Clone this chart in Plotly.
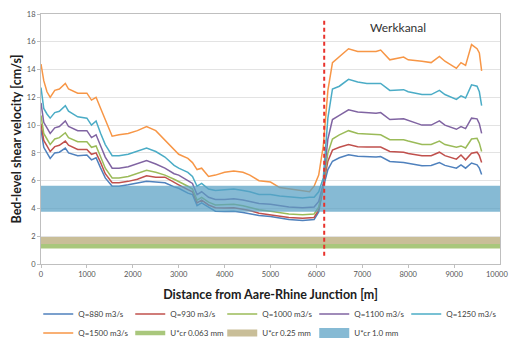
import plotly.graph_objects as go

# Distance from the Aare-Rhine junction [m]
distance = [0, 60, 130, 200, 300, 400, 530, 600, 800, 1000, 1100, 1200, 1300, 1400,
            1550, 1700, 1900, 2100, 2300, 2500, 2700, 2900, 3000, 3200, 3300, 3400,
            3500, 3650, 3800, 4000, 4200, 4400, 4550, 4750, 5000, 5200, 5400, 5700,
            5850, 5950, 6050, 6150, 6250, 6350, 6500, 6700, 6900, 7100, 7300, 7400,
            7600, 7900, 8000, 8300, 8500, 8680, 8800, 9000, 9050, 9150, 9250, 9380,
            9500, 9550, 9600]

# Bed-level shear velocity [cm/s] per discharge
u_880 = [9.7, 8.4, 8.0, 7.6, 8.0, 8.05, 8.35, 8.0, 7.8, 7.85, 7.5, 7.65, 6.9, 6.2,
         5.6, 5.6, 5.7, 5.8, 5.95, 5.9, 5.85, 5.55, 5.45, 5.1, 5.0, 4.2,
         4.4, 4.1, 3.8, 3.78, 3.8, 3.7, 3.6, 3.5, 3.42, 3.3, 3.2, 3.14,
         3.2, 3.2, 3.75, 5.5, 6.8, 7.4, 7.65, 7.86, 7.75, 7.72, 7.7, 7.74,
         7.38, 7.31, 7.25, 7.07, 7.1, 7.31, 7.1, 6.98, 6.9, 7.14, 6.9, 7.27,
         7.14, 6.9, 6.45]
u_930 = [10.1, 8.9, 8.5, 8.1, 8.45, 8.55, 8.85, 8.55, 8.25, 8.25, 7.9, 8.0, 7.3, 6.5,
         5.85, 5.85, 5.95, 6.1, 6.35, 6.25, 6.25, 5.85, 5.7, 5.35, 5.2, 4.4,
         4.6, 4.25, 4.05, 4.03, 4.05, 3.95, 3.85, 3.65, 3.55, 3.45, 3.35, 3.3,
         3.35, 3.35, 3.9, 5.6, 7.4, 8.2, 8.4, 8.6, 8.45, 8.42, 8.4, 8.42,
         8.1, 8.05, 7.95, 7.8, 7.8, 8.05, 7.8, 7.62, 7.55, 7.85, 7.5, 7.98,
         8.05, 7.8, 7.3]
u_1000 = [10.7, 9.4, 9.0, 8.6, 9.0, 9.1, 9.45, 9.1, 8.8, 8.8, 8.4, 8.5, 7.7, 6.9,
          6.2, 6.2, 6.3, 6.5, 6.75, 6.6, 6.4, 6.1, 5.95, 5.6, 5.4, 4.6,
          4.8, 4.45, 4.25, 4.25, 4.3, 4.2, 4.05, 3.9, 3.8, 3.7, 3.6, 3.55,
          3.6, 3.6, 4.1, 5.7, 8.0, 9.0, 9.3, 9.6, 9.4, 9.35, 9.3, 9.3,
          8.95, 8.95, 8.85, 8.6, 8.6, 8.85, 8.6, 8.45, 8.4, 8.5, 8.35, 9.0,
          9.05, 8.7, 8.1]
u_1100 = [11.6, 10.2, 9.8, 9.4, 9.8, 9.9, 10.3, 9.9, 9.6, 9.6, 9.1, 9.3, 8.5, 7.7,
          6.9, 6.9, 7.0, 7.2, 7.45, 7.2, 6.9, 6.5, 6.4, 6.0, 5.8, 5.0,
          5.2, 4.8, 4.65, 4.65, 4.7, 4.6, 4.5, 4.35, 4.3, 4.2, 4.1, 4.05,
          4.1, 4.1, 4.5, 5.8, 9.0, 10.4, 10.7, 11.1, 10.95, 10.9, 10.85, 10.9,
          10.4, 10.45, 10.35, 10.0, 10.0, 10.3, 10.0, 9.8, 9.7, 9.9, 9.75, 10.5,
          10.45, 10.1, 9.4]
u_1250 = [12.7, 11.2, 10.8, 10.5, 10.9, 11.0, 11.4, 11.0, 10.6, 10.5, 10.0, 10.3, 9.4, 8.6,
          7.8, 7.8, 7.9, 8.1, 8.35, 8.1, 7.7, 7.1, 6.9, 6.6, 6.3, 5.6,
          5.8, 5.4, 5.3, 5.35, 5.4, 5.3, 5.2, 5.0, 5.0, 4.9, 4.85, 4.75,
          4.8, 4.8, 5.2, 6.2, 10.5, 12.6, 12.8, 13.3, 13.1, 13.0, 13.0, 13.0,
          12.5, 12.55, 12.4, 12.2, 12.2, 12.5, 12.2, 11.95, 11.85, 12.1, 11.95, 12.9,
          12.8, 12.4, 11.4]
u_1500 = [14.4, 13.2, 12.4, 12.0, 12.5, 12.6, 13.0, 12.6, 12.3, 12.3, 11.8, 12.0, 11.2, 10.4,
          9.2, 9.3, 9.4, 9.6, 9.9, 9.6, 8.9, 8.2, 7.9, 7.6, 7.3, 6.8,
          6.9, 6.3, 6.4, 6.6, 6.7, 6.6, 6.4, 6.0, 5.9, 5.5, 5.4, 5.3,
          5.2, 5.6, 6.4, 8.5, 12.5, 14.5, 14.9, 15.5, 15.3, 15.3, 15.3, 15.4,
          14.7, 14.9, 14.7, 14.6, 14.5, 14.95, 14.6, 14.2, 14.1, 14.5, 14.3, 15.8,
          15.5, 15.2, 13.9]

discharge_labels = ["Q=880 m3/s", "Q=930 m3/s", "Q=1000 m3/s",
                    "Q=1100 m3/s", "Q=1250 m3/s", "Q=1500 m3/s"]
discharge_colors = ["#4F81BD", "#C0504D", "#9BBB59", "#8064A2", "#4BACC6", "#F79646"]

# Critical shear velocities for incipient motion [cm/s]
crit_labels = ["U*cr 0.063 mm", "U*cr 0.25 mm", "U*cr 1.0 mm"]
crit_values = [1.28, 1.70, 4.70]
crit_colors = ["#A9C77C", "#C9BE98", "rgba(88,160,196,0.72)"]
crit_widths = [4.5, 7, 26]
crit_x = [0, 10000]

x_max = 10000
x_ticks = list(range(0, x_max, 1000))   # last label (x_max) placed separately

junction_x = 6170
werkkanal_pos = (7770, 17.0)

fig = go.Figure()

for series, name, color in zip([u_880, u_930, u_1000, u_1100, u_1250, u_1500],
                               discharge_labels, discharge_colors):
    fig.add_trace(go.Scatter(x=distance, y=series, mode="lines", name=name,
                             line=dict(color=color, width=1.5)))

for val, name, color, w in zip(crit_values, crit_labels, crit_colors, crit_widths):
    fig.add_trace(go.Scatter(x=crit_x, y=[val, val], mode="lines", name=name,
                             line=dict(color=color, width=w)))

fig.add_shape(type="line", x0=junction_x, x1=junction_x, y0=0.6, y1=17.7,
              xref="x", yref="y", layer="above",
              line=dict(color="#E8322C", width=2, dash="4px,3px"))

fig.add_annotation(x=werkkanal_pos[0], y=werkkanal_pos[1], text="Werkkanal",
                   showarrow=False, font=dict(size=12, color="#333333", family="Lato"))

# end-of-axis tick label, nudged left so it stays on the page
fig.add_annotation(x=x_max, y=0, xref="x", yref="paper", text=str(x_max),
                   showarrow=False, xanchor="center", yanchor="top",
                   xshift=-3, yshift=-4,
                   font=dict(size=7.5, color="#555555", family="Lato"))

fig.update_layout(
    width=509, height=342,
    margin=dict(l=41, r=9, t=14, b=78, autoexpand=False),
    paper_bgcolor="white", plot_bgcolor="white",
    font=dict(family="Lato", color="#404040"),
    showlegend=True,
    legend=dict(orientation="h", x=-0.006, y=-0.142, xanchor="left", yanchor="top",
                entrywidth=47, entrywidthmode="pixels",
                font=dict(size=8, color="#404040"), itemwidth=30,
                tracegroupgap=0),
)

fig.update_xaxes(range=[0, x_max], tickmode="array", tickvals=x_ticks,
                 ticktext=[str(v) for v in x_ticks],
                 tickfont=dict(size=7.5, color="#555555"),
                 showgrid=False, showline=True, linecolor="#BFBFBF", mirror=True,
                 ticks="outside", ticklen=3, tickcolor="#BFBFBF", zeroline=False,
                 title=dict(text="<b>Distance from Aare-Rhine Junction [m]</b>",
                            font=dict(size=12.5, color="#202020"), standoff=12))
fig.update_yaxes(range=[0, 18], dtick=2, tickfont=dict(size=7.5, color="#555555"),
                 showgrid=True, gridcolor="#E3E3E3", showline=True, linecolor="#BFBFBF",
                 mirror=True, ticks="outside", ticklen=3, tickcolor="#BFBFBF", zeroline=False,
                 title=dict(text="<b>Bed-level shear velocity [cm/s]</b>",
                            font=dict(size=12.5, color="#202020"), standoff=2))

fig.write_html("out.html")
